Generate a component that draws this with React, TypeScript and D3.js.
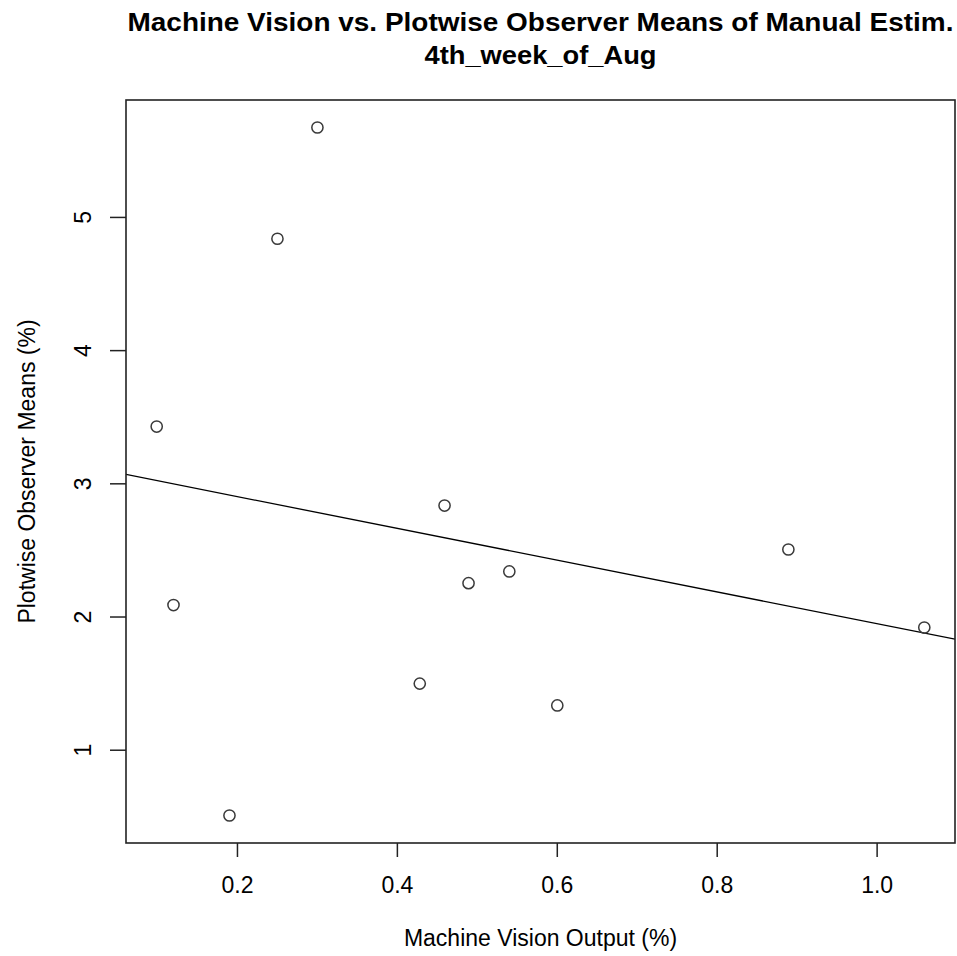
import React, { useEffect, useRef } from 'react';
import * as d3 from 'd3';

// Machine vision output (%) vs plotwise observer means (%)
const machineVision = [0.099, 0.12, 0.19, 0.25, 0.30, 0.428, 0.459, 0.489, 0.54, 0.60, 0.889, 1.059];
const observerMeans = [3.43, 2.09, 0.51, 4.84, 5.675, 1.50, 2.837, 2.254, 2.342, 1.336, 2.507, 1.921];
const xTicks = [0.2, 0.4, 0.6, 0.8, 1.0];
const yTicks = [1, 2, 3, 4, 5];
const titleLines = ['Machine Vision vs. Plotwise Observer Means of Manual Estim.', '4th_week_of_Aug'];
const xLabel = 'Machine Vision Output (%)';
const yLabel = 'Plotwise Observer Means (%)';

const App = () => {
  const svgRef = useRef<SVGSVGElement>(null);

  useEffect(() => {
    const width = 957;
    const height = 956;
    const left = 126, right = 955, top = 100, bottom = 843;
    const font = 'Liberation Sans, Arial, Helvetica, sans-serif';

    const svg = d3.select(svgRef.current);
    svg.selectAll('*').remove();
    svg.attr('width', width).attr('height', height);

    // R style: data range extended by 4% on each side
    const pad = (ext: [number, number]) => {
      const d = (ext[1] - ext[0]) * 0.04;
      return [ext[0] - d, ext[1] + d];
    };
    const x = d3.scaleLinear()
      .domain(pad(d3.extent(machineVision) as [number, number]))
      .range([left, right]);
    const y = d3.scaleLinear()
      .domain(pad(d3.extent(observerMeans) as [number, number]))
      .range([bottom, top]);

    svg.append('rect')
      .attr('width', width).attr('height', height).attr('fill', 'white');

    // title
    const titleWidths = [826, 232];
    const titleY = [31, 64];
    titleLines.forEach((t, i) => {
      svg.append('text')
        .attr('x', (left + right) / 2)
        .attr('y', titleY[i])
        .attr('text-anchor', 'middle')
        .attr('textLength', titleWidths[i])
        .attr('lengthAdjust', 'spacingAndGlyphs')
        .style('font-family', font)
        .style('font-weight', 'bold')
        .style('font-size', '26px')
        .text(t);
    });

    // regression line (lm), clipped to plot region
    const mx = d3.mean(machineVision) as number;
    const my = d3.mean(observerMeans) as number;
    const sxy = d3.sum(machineVision, (v, i) => (v - mx) * (observerMeans[i] - my));
    const sxx = d3.sum(machineVision, v => (v - mx) ** 2);
    const slope = sxy / sxx;
    const intercept = my - slope * mx;
    const [x0, x1] = x.domain();

    svg.append('defs').append('clipPath').attr('id', 'plotclip')
      .append('rect')
      .attr('x', left).attr('y', top)
      .attr('width', right - left).attr('height', bottom - top);

    svg.append('line')
      .attr('clip-path', 'url(#plotclip)')
      .attr('x1', x(x0)).attr('y1', y(intercept + slope * x0))
      .attr('x2', x(x1)).attr('y2', y(intercept + slope * x1))
      .attr('stroke', 'black')
      .attr('stroke-width', 1.3);

    // points
    svg.selectAll('circle.pt')
      .data(machineVision.map((v, i) => [v, observerMeans[i]]))
      .enter().append('circle')
      .attr('class', 'pt')
      .attr('cx', d => x(d[0]))
      .attr('cy', d => y(d[1]))
      .attr('r', 5.6)
      .attr('fill', 'none')
      .attr('stroke', '#3a3a3a')
      .attr('stroke-width', 1.5);

    // box
    svg.append('rect')
      .attr('x', left).attr('y', top)
      .attr('width', right - left).attr('height', bottom - top)
      .attr('fill', 'none')
      .attr('stroke', '#222')
      .attr('stroke-width', 1.6);

    // x axis
    const xa = svg.append('g');
    xTicks.forEach(t => {
      xa.append('line')
        .attr('x1', x(t)).attr('x2', x(t))
        .attr('y1', bottom).attr('y2', bottom + 14)
        .attr('stroke', '#222').attr('stroke-width', 1.5);
      xa.append('text')
        .attr('x', x(t)).attr('y', 893)
        .attr('text-anchor', 'middle')
        .style('font-family', font).style('font-size', '23px')
        .text(t.toFixed(1));
    });

    // y axis
    const ya = svg.append('g');
    yTicks.forEach(t => {
      ya.append('line')
        .attr('x1', left - 16).attr('x2', left)
        .attr('y1', y(t)).attr('y2', y(t))
        .attr('stroke', '#222').attr('stroke-width', 1.5);
      ya.append('text')
        .attr('transform', `translate(91,${y(t)}) rotate(-90)`)
        .attr('text-anchor', 'middle')
        .style('font-family', font).style('font-size', '23px')
        .text(String(t));
    });

    // axis titles
    svg.append('text')
      .attr('x', (left + right) / 2).attr('y', 946)
      .attr('text-anchor', 'middle')
      .style('font-family', font).style('font-size', '23px')
      .text(xLabel);

    svg.append('text')
      .attr('transform', `translate(35,${(top + bottom) / 2}) rotate(-90)`)
      .attr('text-anchor', 'middle')
      .style('font-family', font).style('font-size', '23px')
      .text(yLabel);
  }, []);

  return (
    <svg ref={svgRef} style={{ position: 'absolute', left: 0, top: 0 }}></svg>
  );
};

export default App;
